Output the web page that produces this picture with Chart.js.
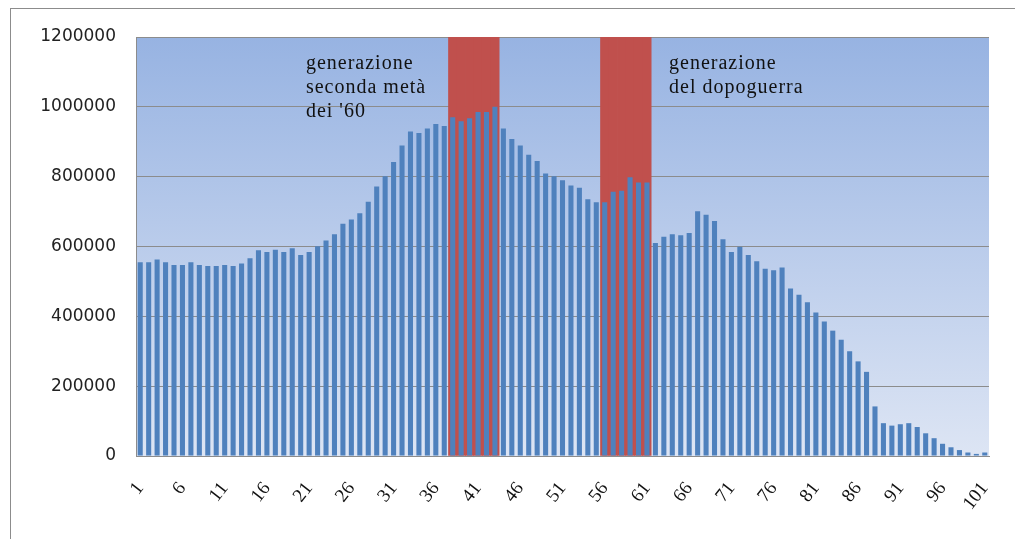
<!DOCTYPE html>
<html>
<head>
<meta charset="utf-8">
<script src="https://cdn.jsdelivr.net/npm/chart.js@4.4.1/dist/chart.umd.min.js"></script>
<style>
  html, body { margin: 0; padding: 0; background: #fff; overflow: hidden; }
  #wrap { position: relative; width: 1015px; height: 539px; overflow: hidden; }
  #lineTop { position: absolute; left: 10px; top: 8px; width: 1005px; height: 1px; background: #8c8c8c; }
  #lineLeft { position: absolute; left: 10px; top: 8px; width: 1px; height: 531px; background: #8c8c8c; }
  canvas { position: absolute; left: 0; top: 0; }
</style>
</head>
<body>
<div id="wrap">
  <div id="lineTop"></div>
  <div id="lineLeft"></div>
  <canvas id="chart" width="1015" height="539"></canvas>
</div>
<script>
// età (1..101)
const ages = [];
for (let i = 1; i <= 101; i++) ages.push(String(i));

// popolazione per età
const population = [
  555000, 555000, 563000, 555000, 547000, 547000, 555000, 547000, 544000, 544000,
  547000, 544000, 551000, 566000, 589000, 584000, 591000, 584000, 595000, 576000,
  584000, 601000, 617000, 635000, 665000, 677000, 695000, 728000, 772000, 801000,
  842000, 889000, 929000, 925000, 938000, 951000, 945000, 970000, 959000, 967000,
  985000, 985000, 1000000, 938000, 908000, 889000, 863000, 845000, 809000, 801000,
  790000, 775000, 768000, 735000, 727000, 727000, 757000, 760000, 798000, 783000,
  783000, 610000, 628000, 635000, 632000, 639000, 701000, 691000, 673000, 621000,
  584000, 599000, 576000, 558000, 536000, 532000, 540000, 480000, 462000, 440000,
  411000, 385000, 359000, 333000, 300000, 271000, 241000, 142000, 94000, 87000,
  91000, 94000, 83000, 65000, 51000, 35000, 25000, 17000, 10000, 6000,
  10000
];

// fasce evidenziate (età da/a)
const bandFrom = [38, 56];
const bandTo = [43, 61];
const bandHeight = 1200000;

// etichette asse y
const yTicks = [0, 200000, 400000, 600000, 800000, 1000000, 1200000];

// note
const notes = [
  { lines: ['generazione', 'seconda metà', "dei '60"], age: 21 },
  { lines: ['generazione', 'del dopoguerra'], age: 64 }
];

const bandData = ages.map((a, i) => {
  const n = i + 1;
  for (let k = 0; k < bandFrom.length; k++) {
    if (n >= bandFrom[k] && n <= bandTo[k]) return bandHeight;
  }
  return null;
});

const bgPlugin = {
  id: 'bg',
  beforeDraw(chart) {
    const { ctx, chartArea: a } = chart;
    const g = ctx.createLinearGradient(0, a.top, 0, a.bottom);
    g.addColorStop(0, '#97b3e2');
    g.addColorStop(1, '#dde5f4');
    ctx.save();
    ctx.fillStyle = g;
    ctx.fillRect(a.left, a.top, a.right - a.left, a.bottom - a.top);
    ctx.restore();
  }
};

const notesPlugin = {
  id: 'notes',
  afterDatasetsDraw(chart) {
    const { ctx, chartArea: a } = chart;
    const xs = chart.scales.x;
    const step = xs.getPixelForValue(1) - xs.getPixelForValue(0);
    ctx.save();
    ctx.font = '20px "Liberation Serif", "Times New Roman", serif';
    ctx.letterSpacing = '1px';
    ctx.fillStyle = '#111';
    ctx.textBaseline = 'alphabetic';
    notes.forEach(n => {
      const x = xs.getPixelForValue(n.age - 1) - step / 2 + 1;
      n.lines.forEach((t, j) => ctx.fillText(t, x, a.top + 32 + j * 24));
    });
    ctx.restore();
  }
};

new Chart(document.getElementById('chart'), {
  type: 'bar',
  data: {
    labels: ages,
    datasets: [
      {
        data: population,
        backgroundColor: '#4f81bd',
        borderWidth: 0,
        barPercentage: 0.6,
        categoryPercentage: 1,
        order: 0
      },
      {
        data: bandData,
        backgroundColor: '#c0504d',
        borderWidth: 0,
        barPercentage: 1,
        categoryPercentage: 1,
        grouped: false,
        order: 1
      }
    ]
  },
  options: {
    responsive: false,
    animation: false,
    layout: { padding: { top: 37, right: 26, left: 0, bottom: 0 } },
    plugins: { legend: { display: false }, tooltip: { enabled: false } },
    scales: {
      x: {
        grid: { display: false, drawTicks: false },
        border: { color: '#8c8c8c', width: 1 },
        ticks: {
          autoSkip: false,
          minRotation: 52,
          maxRotation: 52,
          padding: 22,
          color: '#111',
          font: { family: '"Liberation Serif", serif', size: 19 },
          callback: (v, i) => (i % 5 === 0 ? ages[i] : '')
        },
        afterFit: s => { s.height = 83; s.paddingLeft = 0; s.paddingRight = 0; }
      },
      y: {
        min: 0,
        max: 1200000,
        afterBuildTicks: s => { s.ticks = yTicks.map(v => ({ value: v })); },
        grid: { color: '#8c8c8c', lineWidth: 1, drawTicks: false },
        border: { color: '#8c8c8c', width: 1 },
        ticks: {
          padding: 20,
          color: '#222',
          font: { family: '"DejaVu Sans", sans-serif', size: 17 },
          callback: v => String(v)
        },
        afterFit: s => { s.width = 136; }
      }
    }
  },
  plugins: [bgPlugin, notesPlugin]
});
</script>
</body>
</html>
